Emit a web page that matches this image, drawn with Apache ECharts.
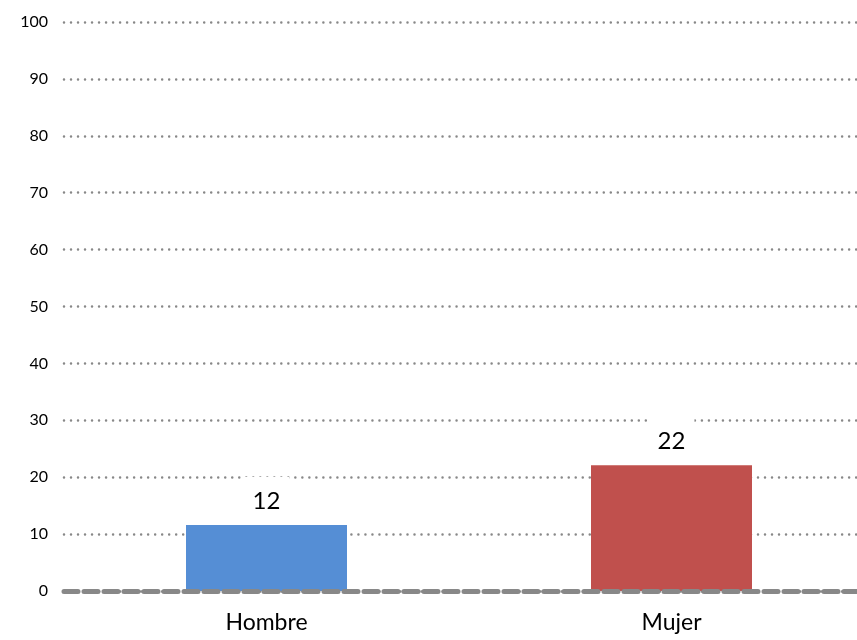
<!DOCTYPE html>
<html><head><meta charset="utf-8">
<script src="https://cdn.jsdelivr.net/npm/echarts@6/dist/echarts.min.js"></script>
<style>html,body{margin:0;padding:0;background:#fff;overflow:hidden;width:857px;height:640px}#c{width:874px;height:640px}</style>
</head><body><div id="c"></div>
<script>
var categories = ['Hombre', 'Mujer'];
var values = [11.6, 22.1];
var colors = ['#558ED5', '#C0504D'];
var yTicks = [0, 10, 20, 30, 40, 50, 60, 70, 80, 90, 100];

var chart = echarts.init(document.getElementById('c'));
chart.setOption({
  animation: false,
  grid: { left: 64, right: 0, top: 22, bottom: 49, containLabel: false },
  xAxis: {
    type: 'category', data: categories, z: 10,
    axisTick: { show: false },
    axisLine: { show: true, lineStyle: { color: '#888888', width: 5, type: [14, 6] } },
    axisLabel: { color: '#000', fontSize: 23, margin: 20, fontFamily: 'Lato' }
  },
  yAxis: {
    type: 'value', min: 0, max: 100, interval: 10,
    axisLine: { show: false }, axisTick: { show: false },
    axisLabel: { color: '#000', fontSize: 16, margin: 16, fontFamily: 'Lato',
      formatter: function (v) { return yTicks.indexOf(v) >= 0 ? String(v) : ''; } },
    splitLine: { show: true, lineStyle: { color: '#888888', width: 2.5, type: [0.01, 7], cap: 'round' } }
  },
  series: [{
    type: 'bar', barWidth: 161,
    data: values.map(function (v, i) { return { value: v, itemStyle: { color: colors[i] } }; }),
    label: {
      show: true, position: 'top', distance: 4, color: '#000', fontSize: 24, fontFamily: 'Lato',
      backgroundColor: '#fff', padding: [12, 9, 8, 9],
      formatter: function (p) { return String(Math.round(p.value)); }
    }
  }]
});
</script></body></html>
